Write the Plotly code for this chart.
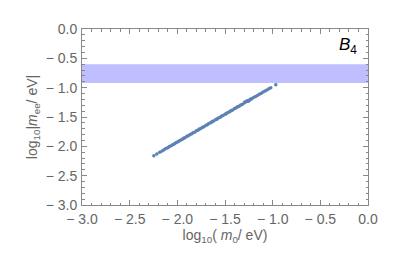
import plotly.graph_objects as go

# data
m0_log = [-2.246, -2.215, -2.185, -2.160, -2.140, -2.120, -2.100, -2.085, -2.065, -2.050,
          -2.030, -2.015, -2.000, -1.985, -1.970, -1.950, -1.935, -1.920, -1.900, -1.885,
          -1.870, -1.850, -1.835, -1.820, -1.800, -1.785, -1.770, -1.750, -1.735, -1.720,
          -1.700, -1.685, -1.670, -1.650, -1.635, -1.620, -1.600, -1.585, -1.570, -1.550,
          -1.535, -1.520, -1.500, -1.485, -1.470, -1.450, -1.435, -1.420, -1.400, -1.385,
          -1.370, -1.350, -1.335, -1.320, -1.300, -1.290, -1.280, -1.270, -1.262, -1.255,
          -1.245, -1.235, -1.220, -1.200, -1.180, -1.160, -1.140, -1.120, -1.100, -1.080,
          -1.060, -1.040, -1.020, -0.967]
mee_log = [-2.160, -2.130, -2.102, -2.080, -2.060, -2.038, -2.024, -2.005, -1.990, -1.972,
           -1.958, -1.938, -1.925, -1.915, -1.896, -1.882, -1.864, -1.854, -1.830, -1.820,
           -1.802, -1.787, -1.769, -1.760, -1.735, -1.726, -1.707, -1.693, -1.674, -1.665,
           -1.640, -1.631, -1.612, -1.598, -1.579, -1.570, -1.546, -1.537, -1.518, -1.503,
           -1.484, -1.475, -1.452, -1.442, -1.423, -1.409, -1.390, -1.381, -1.357, -1.347,
           -1.328, -1.314, -1.295, -1.286, -1.262, -1.245, -1.240, -1.228, -1.222, -1.230,
           -1.215, -1.200, -1.190, -1.168, -1.150, -1.134, -1.112, -1.096, -1.075, -1.058,
           -1.040, -1.018, -1.002, -0.950]
band_low, band_high = -0.92, -0.60
x_ticks = [-3.0, -2.5, -2.0, -1.5, -1.0, -0.5, 0.0]
y_ticks = [0.0, -0.5, -1.0, -1.5, -2.0, -2.5, -3.0]


def fmt(v):
    return ("\u2212 " if v < 0 else "") + f"{abs(v):.1f}"


fig = go.Figure()
fig.add_shape(type="rect", xref="x", yref="y", x0=-3, x1=0, y0=band_low, y1=band_high,
              fillcolor="rgb(191,191,255)", line_width=0, layer="below")
fig.add_trace(go.Scatter(x=m0_log, y=mee_log, mode="markers",
                         marker=dict(size=3.6, color="rgb(94,129,181)", line_width=0),
                         showlegend=False))

tick_font = dict(family="Liberation Sans", size=14, color="#666")
axis_common = dict(showline=True, linecolor="#888", linewidth=1, mirror="allticks",
                   ticks="inside", ticklen=5, tickcolor="#888", showgrid=False,
                   zeroline=False, tickfont=tick_font, ticklabelstandoff=1,
                   minor=dict(dtick=0.1, ticks="inside", ticklen=2.5, tickcolor="#888"))

fig.update_xaxes(range=[-3, 0], tickvals=x_ticks, ticktext=[fmt(v) for v in x_ticks],
                 title=dict(text="log<sub>10</sub>( <i>m</i><sub>0</sub>/ eV)",
                            font=dict(family="Liberation Sans", size=14, color="#666"),
                            standoff=4),
                 **axis_common)
fig.update_yaxes(range=[-3, 0], tickvals=y_ticks, ticktext=[fmt(v) for v in y_ticks],
                 title=dict(text="log<sub>10</sub>|<i>m</i><sub>ee</sub>/ eV|",
                            font=dict(family="Liberation Sans", size=14, color="#666"),
                            standoff=4),
                 **axis_common)

fig.add_annotation(x=0.968, y=0.975, xref="paper", yref="paper", xanchor="right", yanchor="top",
                   text="<i>B</i><sub>4</sub>", showarrow=False,
                   font=dict(family="Liberation Sans", size=17, color="black"))

fig.update_layout(width=400, height=270, margin=dict(l=74, r=40, t=21, b=73, autoexpand=False),
                  plot_bgcolor="white", paper_bgcolor="white")

fig.write_html("out.html")
